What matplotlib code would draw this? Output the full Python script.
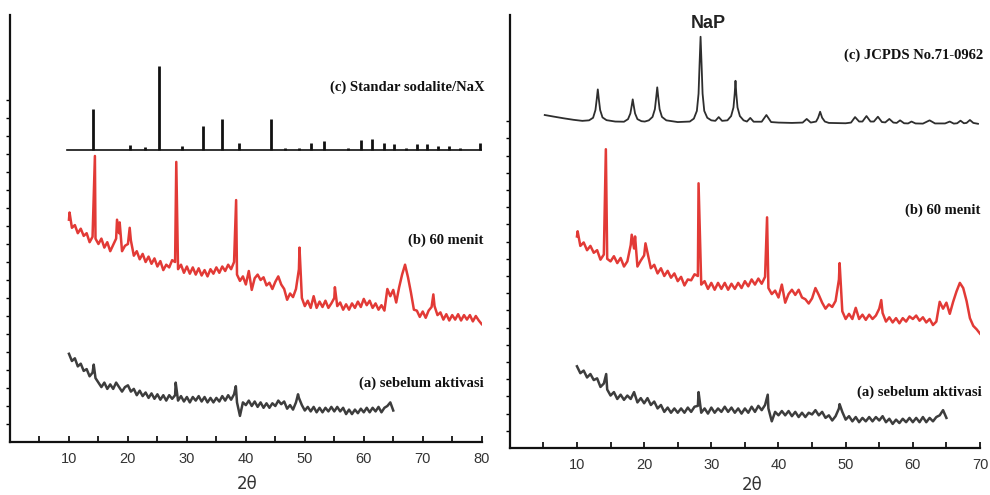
import matplotlib
matplotlib.use('Agg')
import matplotlib.pyplot as plt

# ---- left panel: sodalite / NaX ----
# (c) standard sticks: baseline and peak tops
left_c_base = 16.25
left_c_range = (9.7, 80.0)
left_c_pos = [14.1, 20.3, 22.9, 25.3, 29.2, 32.8, 36.0, 38.9, 44.2, 46.6, 49.0, 51.1, 53.2,
              57.4, 59.5, 61.4, 63.4, 65.2, 67.1, 69.0, 70.8, 72.6, 74.4, 76.3, 79.7]
left_c_top = [18.50, 16.50, 16.39, 20.91, 16.44, 17.57, 17.93, 16.63, 17.94, 16.35, 16.35, 16.59, 16.74,
              16.35, 16.78, 16.83, 16.63, 16.56, 16.35, 16.56, 16.56, 16.44, 16.44, 16.35, 16.59]

# (b) 60 menit: background read every 0.5 deg from 10, plus the sharp reflections
left_b_start = 10.0
left_b_bg = [12.35, 11.9, 12.05, 11.6, 11.85, 11.45, 11.6, 11.1, 11.4, 11.3,
             11.0, 11.3, 10.8, 11.1, 10.6, 10.95, 11.3, 11.6, 10.6, 10.9,
             11.0, 11.2, 10.35, 10.6, 10.15, 10.45, 10.0, 10.3, 9.9, 10.2,
             9.75, 10.05, 9.55, 9.85, 9.7, 10.1, 10.0, 9.6, 9.85, 9.4,
             9.75, 9.35, 9.7, 9.3, 9.65, 9.25, 9.55, 9.2, 9.6, 9.35,
             9.7, 9.4, 9.75, 9.5, 9.85, 9.6, 10.0, 9.3, 8.95, 9.2,
             8.75, 9.5, 8.45, 9.1, 9.3, 9.0, 9.15, 8.7, 8.85, 8.5,
             8.9, 9.2, 8.75, 8.5, 7.9, 8.25, 8.05, 8.5, 9.6, 8.0,
             7.55, 7.85, 7.45, 8.1, 7.45, 7.8, 7.5, 7.85, 7.45, 7.7,
             8.0, 7.55, 7.75, 7.35, 7.65, 7.35, 7.7, 7.45, 7.8, 7.5,
             7.95, 7.6, 7.85, 7.45, 7.7, 7.35, 7.6, 7.3, 8.5, 8.1,
             8.45, 7.75, 8.6, 9.3, 9.85, 9.15, 8.3, 7.35, 7.3, 6.95,
             7.25, 6.9, 7.3, 7.5, 7.55, 7.05, 7.2, 6.8, 7.1, 6.75,
             7.05, 6.8, 7.1, 6.75, 7.05, 6.8, 7.05, 6.7, 7.0, 6.75, 6.55]
left_b_peak_x = [10.1, 14.4, 18.15, 18.6, 20.3, 28.2, 38.35, 49.1, 55.1, 71.8]
left_b_peak_y = [12.75, 15.89, 12.35, 12.2, 11.9, 15.56, 13.44, 10.8, 8.6, 8.2]

# (a) sebelum aktivasi
left_a_start = 10.0
left_a_bg = [4.9, 4.5, 4.65, 4.2, 4.35, 3.95, 4.05, 3.65, 3.85, 3.55,
             3.3, 3.05, 3.3, 2.95, 3.2, 2.95, 3.3, 3.05, 2.8, 3.05,
             3.15, 2.8, 2.95, 2.6, 2.85, 2.55, 2.75, 2.45, 2.7, 2.4,
             2.65, 2.35, 2.6, 2.3, 2.6, 2.4, 2.6, 2.3, 2.55, 2.25,
             2.5, 2.2, 2.5, 2.3, 2.55, 2.25, 2.5, 2.2, 2.45, 2.2,
             2.45, 2.25, 2.55, 2.3, 2.6, 2.35, 2.65, 2.2, 1.45, 2.2,
             2.05, 2.3, 2.0, 2.25, 1.95, 2.2, 1.9, 2.15, 1.9, 2.15,
             2.0, 2.3, 2.1, 2.25, 1.85, 2.05, 1.8, 2.2, 2.45, 2.05,
             1.75, 1.95, 1.7, 1.95, 1.65, 1.9, 1.65, 1.9, 1.7, 1.95,
             1.7, 1.95, 1.7, 1.9, 1.55, 1.8, 1.55, 1.8, 1.6, 1.85,
             1.65, 1.9, 1.65, 1.9, 1.7, 1.95, 1.65, 1.9, 2.0, 2.2, 1.75]
left_a_peak_x = [14.2, 28.1, 38.3, 48.85]
left_a_peak_y = [4.3, 3.3, 3.1, 2.65]

# ---- right panel: NaP ----
right_c_x = [5.2, 6.5, 8.0, 9.5, 10.8, 11.8, 12.4, 12.75, 12.95, 13.1, 13.25, 13.45, 13.8, 14.4, 15.7,
             17.0, 17.6, 17.95, 18.15, 18.3, 18.45, 18.65, 19.0, 19.6, 20.1,
             20.7, 21.25, 21.6, 21.8, 21.95, 22.1, 22.3, 22.65, 23.3, 25.0,
             26.8, 27.4, 27.85, 28.1, 28.25, 28.4, 28.55, 28.7, 28.95, 29.4, 30.0,
             30.6, 31.1, 31.6, 32.4, 32.95, 33.3, 33.48, 33.6, 33.72, 33.9, 34.25, 34.8,
             35.3, 35.8, 36.3, 37.5, 38.2, 38.9, 40.0, 42.0, 43.6, 44.2, 44.8, 45.6, 45.9, 46.2,
             46.5, 46.9, 47.5, 50.0, 50.8, 51.4, 52.0, 52.5, 53.1, 53.7, 54.2, 54.8, 55.4, 55.9,
             56.5, 57.1, 57.6, 58.1, 58.7, 59.3, 59.8, 60.4, 61.5, 62.5, 63.3, 64.8, 65.5, 66.1,
             66.6, 67.1, 67.6, 68.0, 68.5, 69.0, 69.7]
right_c_y = [19.36, 19.27, 19.17, 19.08, 19.02, 19.05, 19.2, 19.65, 20.3, 20.85, 20.3, 19.65, 19.22, 19.06, 18.98,
             18.97, 19.12, 19.45, 19.9, 20.27, 19.9, 19.45, 19.12, 19.0, 18.98,
             19.05, 19.25, 19.7, 20.4, 20.97, 20.4, 19.7, 19.25, 19.05, 18.95,
             18.98, 19.15, 19.6, 20.6, 22.3, 23.91, 22.3, 20.6, 19.6, 19.2, 19.05,
             19.02, 19.24, 19.02, 19.05, 19.3, 19.8, 20.6, 21.35, 20.6, 19.8, 19.3, 19.05,
             18.98, 19.19, 18.97, 18.97, 19.36, 18.95, 18.92, 18.9, 18.92, 19.13, 18.92, 18.98, 19.2, 19.55,
             19.2, 18.98, 18.9, 18.88, 18.92, 19.24, 18.98, 18.98, 19.30, 18.98, 18.98, 19.26, 18.95, 18.93,
             19.13, 18.92, 18.9, 19.05, 18.88, 18.87, 18.98, 18.87, 18.86, 19.05, 18.87, 18.87, 18.98, 18.86,
             18.88, 19.03, 18.88, 18.9, 19.07, 18.9, 18.85]

right_b_start = 10.0
right_b_bg = [12.3, 11.75, 11.95, 11.5, 11.75, 11.35, 11.5, 10.95, 11.25, 11.0,
              10.85, 11.15, 10.75, 11.05, 10.55, 10.85, 11.8, 11.6, 10.55, 10.9,
              11.2, 11.35, 10.45, 10.65, 10.15, 10.45, 10.0, 10.3, 9.9, 10.15,
              9.7, 9.95, 9.45, 9.8, 9.75, 10.1, 10.0, 9.5, 9.7, 9.25,
              9.6, 9.2, 9.6, 9.25, 9.6, 9.2, 9.55, 9.25, 9.6, 9.3,
              9.7, 9.4, 9.8, 9.5, 9.85, 9.55, 9.95, 9.3, 8.95, 9.15,
              8.75, 9.5, 8.45, 8.95, 9.2, 8.9, 9.2, 8.75, 8.65, 8.4,
              8.7, 9.3, 8.9, 8.45, 8.1, 8.35, 8.2, 8.55, 9.8, 7.95,
              7.5, 7.8, 7.5, 8.15, 7.5, 7.75, 7.45, 7.75, 7.5, 7.7,
              8.1, 7.85, 7.35, 7.6, 7.3, 7.55, 7.25, 7.55, 7.35, 7.65,
              7.5, 7.7, 7.4, 7.6, 7.3, 7.5, 7.15, 7.35, 8.5, 8.1,
              8.45, 7.8, 8.5, 9.1, 9.6, 9.3, 8.55, 7.55, 7.1, 6.9, 6.65]
right_b_peak_x = [10.1, 14.3, 18.15, 18.65, 20.2, 28.1, 38.3, 49.1, 55.3]
right_b_peak_y = [12.6, 17.37, 12.4, 12.3, 11.9, 15.39, 13.41, 10.75, 8.6]

right_a_start = 10.0
right_a_bg = [4.75, 4.35, 4.5, 4.1, 4.3, 3.95, 4.05, 3.55, 3.75, 3.4,
              3.05, 3.25, 2.85, 3.1, 2.8, 3.05, 2.85, 3.25, 2.65, 2.9,
              2.6, 2.9, 2.5, 2.7, 2.3, 2.5, 2.1, 2.35, 2.05, 2.3,
              2.05, 2.3, 2.05, 2.35, 2.1, 2.4, 2.45, 2.05, 2.3, 2.0,
              2.35, 2.05, 2.3, 2.1, 2.4, 2.1, 2.35, 2.05, 2.3, 2.0,
              2.3, 2.05, 2.4, 2.1, 2.45, 2.2, 2.5, 2.3, 1.55, 2.1,
              1.9, 2.15, 1.9, 2.15, 1.85, 2.1, 1.8, 2.05, 1.8, 2.05,
              1.95, 2.2, 1.9, 2.1, 1.75, 1.9, 1.6, 1.85, 2.3, 2.1,
              1.65, 1.85, 1.55, 1.8, 1.5, 1.75, 1.55, 1.8, 1.55, 1.8,
              1.6, 1.85, 1.5, 1.7, 1.4, 1.65, 1.45, 1.7, 1.5, 1.75,
              1.5, 1.75, 1.5, 1.8, 1.5, 1.75, 1.55, 1.8, 1.9, 2.2, 1.75]
right_a_peak_x = [14.35, 28.1, 38.4, 49.1]
right_a_peak_y = [4.3, 3.25, 3.1, 2.55]

left_ticks = [10, 20, 30, 40, 50, 60, 70, 80]
right_ticks = [10, 20, 30, 40, 50, 60, 70]

RED = '#e23a36'
GRAY = '#3d3d3d'
serif = 'Liberation Serif'
sans = 'Liberation Sans'

fig = plt.figure(figsize=(9.9, 4.95), dpi=100)
ax1 = fig.add_axes([10 / 990, 1 - 442 / 495, 471.7 / 990, 427 / 495])
ax2 = fig.add_axes([509.8 / 990, 1 - 448 / 495, 470.2 / 990, 433 / 495])


def trace(ax, start, bg, peak_x, peak_y, color):
    # background samples every 0.5 deg merged with the sharp reflections
    pts = [(start + 0.5 * i, v) for i, v in enumerate(bg)] + list(zip(peak_x, peak_y))
    pts.sort()
    ax.plot([p[0] for p in pts], [p[1] for p in pts], color=color, lw=1.8, solid_joinstyle='round')


# left
ax1.plot(left_c_range, [left_c_base, left_c_base], color='#111111', lw=1.2)
ax1.vlines(left_c_pos, left_c_base, left_c_top, color='#111111', lw=2.0)
trace(ax1, left_b_start, left_b_bg, left_b_peak_x, left_b_peak_y, RED)
trace(ax1, left_a_start, left_a_bg, left_a_peak_x, left_a_peak_y, GRAY)

# right
ax2.plot(right_c_x, right_c_y, color='#2e2e2e', lw=1.3)
trace(ax2, right_b_start, right_b_bg, right_b_peak_x, right_b_peak_y, RED)
trace(ax2, right_a_start, right_a_bg, right_a_peak_x, right_a_peak_y, GRAY)

ax1.set_ylim(0, 427 / 18)
ax2.set_ylim(0, 433 / 17.2)

for ax, ticks in ((ax1, left_ticks), (ax2, right_ticks)):
    for s in ('top', 'right'):
        ax.spines[s].set_visible(False)
    for s in ('left', 'bottom'):
        ax.spines[s].set_linewidth(1.6)
        ax.spines[s].set_color('#111111')
    ax.set_xticks(ticks)
    ax.set_xticks([t - 5 for t in ticks], minor=True)
    ax.set_yticks(range(1, 20))
    ax.set_yticklabels([])
    ax.tick_params(axis='x', which='both', direction='in', length=4, width=1.2,
                   labelsize=10.5, labelcolor='#333333', pad=7)
    ax.tick_params(axis='y', direction='out', length=3, width=1.0)
    for lab in ax.get_xticklabels():
        lab.set_fontfamily(sans)
    ax.patch.set_alpha(0)

ax1.set_xlim(0, 80)
ax2.set_xlim(0, 70)

lab = dict(family=serif, weight='bold', fontsize=10.5, ha='right', va='center', color='#111111')
fig.text(485 / 990, 1 - 87 / 495, '(c) Standar sodalite/NaX', **lab)
fig.text(483 / 990, 1 - 240 / 495, '(b) 60 menit', **lab)
fig.text(484 / 990, 1 - 383 / 495, '(a) sebelum aktivasi', **lab)
fig.text(983 / 990, 1 - 55 / 495, '(c) JCPDS No.71-0962', **lab)
fig.text(980 / 990, 1 - 210 / 495, '(b) 60 menit', **lab)
fig.text(982 / 990, 1 - 392 / 495, '(a) sebelum aktivasi', **lab)
fig.text(708 / 990, 1 - 23 / 495, 'NaP', family=sans, weight='bold', fontsize=13,
         ha='center', va='center', color='#222222')

fig.text(247 / 990, 1 - 484 / 495, '2θ', family='DejaVu Sans', fontsize=12,
         ha='center', va='center', color='#333333')
fig.text(752 / 990, 1 - 485 / 495, '2θ', family='DejaVu Sans', fontsize=12,
         ha='center', va='center', color='#333333')

fig.savefig('out.png', dpi=100, facecolor='white')
